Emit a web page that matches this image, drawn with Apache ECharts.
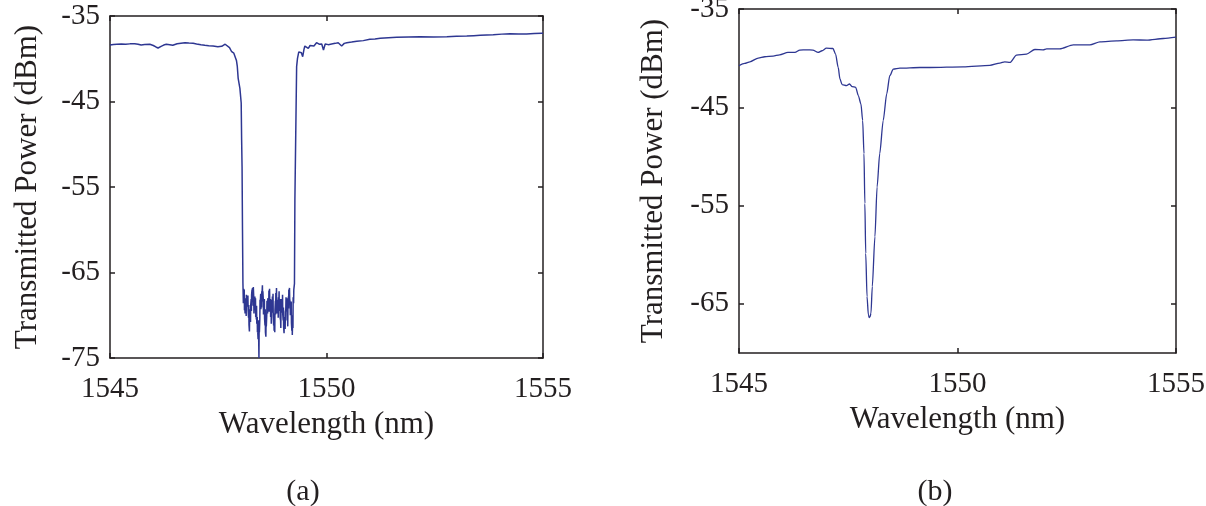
<!DOCTYPE html>
<html>
<head>
<meta charset="utf-8">
<script src="https://cdn.jsdelivr.net/npm/echarts@6/dist/echarts.min.js"></script>
<style>
  html, body { margin: 0; padding: 0; background: #ffffff; }
  #chart { width: 1206px; height: 506px; }
</style>
</head>
<body>
<div id="chart"></div>
<script>
// Transmission spectra: (a) broad stop band, (b) narrow resonance dip.
// Each entry is [wavelength (nm), transmitted power (dBm)].
const traceA = [
  [1545.00,-38.39],[1545.08,-38.33],[1545.16,-38.30],[1545.26,-38.27],[1545.36,-38.31],
  [1545.46,-38.26],[1545.57,-38.24],[1545.65,-38.30],[1545.72,-38.39],[1545.80,-38.33],
  [1545.92,-38.31],[1546.00,-38.45],[1546.06,-38.62],[1546.11,-38.74],[1546.18,-38.55],
  [1546.24,-38.40],[1546.30,-38.31],[1546.38,-38.36],[1546.45,-38.43],[1546.55,-38.25],
  [1546.64,-38.18],[1546.73,-38.12],[1546.82,-38.17],[1546.92,-38.20],[1547.00,-38.28],
  [1547.10,-38.36],[1547.19,-38.43],[1547.28,-38.48],[1547.38,-38.52],[1547.49,-38.59],
  [1547.58,-38.55],[1547.66,-38.30],[1547.70,-38.19],[1547.76,-38.70],[1547.81,-39.18],
  [1547.86,-39.35],[1547.89,-39.56],[1547.92,-40.20],[1547.94,-40.90],[1547.96,-42.29],
  [1548.00,-43.46],[1548.03,-45.18],[1548.04,-49.50],[1548.05,-52.63],[1548.06,-60.00],
  [1548.07,-66.26],
  // noisy floor inside the stop band
  [1548.08,-68.6],[1548.085,-66.9],[1548.09,-67.5],[1548.10,-67.0],[1548.105,-69.4],
  [1548.11,-68.8],[1548.12,-69.8],[1548.125,-68.0],[1548.13,-69.1],[1548.14,-68.2],
  [1548.145,-70.1],[1548.15,-67.6],[1548.16,-67.4],[1548.165,-68.9],[1548.17,-68.3],
  [1548.18,-69.0],[1548.185,-67.7],[1548.19,-69.4],[1548.20,-70.3],[1548.205,-68.8],
  [1548.21,-71.1],[1548.22,-71.9],[1548.225,-69.9],[1548.23,-70.6],[1548.24,-69.3],
  [1548.245,-70.8],[1548.25,-68.8],[1548.26,-68.1],[1548.265,-69.5],[1548.27,-67.6],
  [1548.28,-67.0],[1548.285,-68.4],[1548.29,-66.8],[1548.30,-67.4],[1548.305,-68.9],
  [1548.31,-66.7],[1548.32,-67.9],[1548.325,-69.8],[1548.33,-68.7],[1548.34,-69.4],
  [1548.345,-67.8],[1548.35,-68.5],[1548.36,-68.0],[1548.365,-70.2],[1548.37,-69.2],
  [1548.38,-70.5],[1548.385,-68.9],[1548.39,-71.0],[1548.40,-70.2],[1548.405,-72.0],
  [1548.41,-71.7],[1548.42,-72.8],[1548.425,-70.6],[1548.43,-71.4],[1548.44,-75.0],
  [1548.445,-70.9],[1548.45,-72.0],[1548.46,-70.4],[1548.465,-68.2],[1548.47,-68.6],
  [1548.48,-67.5],[1548.485,-69.3],[1548.49,-68.3],[1548.50,-69.1],[1548.505,-67.2],
  [1548.51,-67.6],[1548.52,-66.5],[1548.525,-68.4],[1548.53,-67.2],[1548.54,-68.1],
  [1548.545,-69.9],[1548.55,-68.9],[1548.56,-69.5],[1548.565,-68.1],[1548.57,-70.4],
  [1548.58,-71.2],[1548.585,-69.3],[1548.59,-72.0],[1548.60,-72.5],[1548.605,-70.4],
  [1548.61,-71.3],[1548.62,-70.0],[1548.625,-68.3],[1548.63,-68.7],[1548.64,-69.8],
  [1548.645,-68.0],[1548.65,-69.2],[1548.66,-68.0],[1548.665,-69.6],[1548.67,-67.1],
  [1548.68,-67.9],[1548.685,-66.9],[1548.69,-68.6],[1548.70,-69.6],[1548.705,-68.1],
  [1548.71,-70.2],[1548.72,-69.4],[1548.725,-71.0],[1548.73,-68.9],[1548.74,-68.2],
  [1548.745,-69.7],[1548.75,-67.8],[1548.76,-68.9],[1548.765,-67.5],[1548.77,-70.1],
  [1548.78,-71.2],[1548.785,-69.8],[1548.79,-71.8],[1548.80,-70.5],[1548.805,-72.0],
  [1548.81,-69.4],[1548.82,-68.3],[1548.825,-69.9],[1548.83,-67.4],[1548.84,-68.1],
  [1548.845,-66.8],[1548.85,-69.0],[1548.86,-69.8],[1548.865,-68.2],[1548.87,-69.1],
  [1548.88,-68.5],[1548.885,-70.3],[1548.89,-67.9],[1548.90,-68.3],[1548.905,-67.2],
  [1548.91,-69.0],[1548.92,-69.5],[1548.925,-68.1],[1548.93,-70.3],[1548.94,-70.6],
  [1548.945,-71.5],[1548.95,-69.2],[1548.96,-68.1],[1548.965,-69.7],[1548.97,-68.6],
  [1548.98,-69.1],[1548.985,-67.6],[1548.99,-69.9],[1549.00,-70.6],[1549.005,-69.1],
  [1549.01,-71.4],[1549.02,-72.1],[1549.025,-70.2],[1549.03,-71.0],[1549.04,-70.2],
  [1549.045,-71.6],[1549.05,-69.6],[1549.06,-69.3],[1549.065,-67.9],[1549.07,-68.4],
  [1549.08,-69.5],[1549.085,-68.0],[1549.09,-70.6],[1549.10,-69.8],[1549.105,-71.3],
  [1549.11,-68.7],[1549.12,-67.8],[1549.125,-69.2],[1549.13,-67.0],[1549.14,-67.6],
  [1549.145,-66.8],[1549.15,-68.1],[1549.16,-68.5],[1549.165,-70.0],[1549.17,-68.7],
  [1549.18,-69.8],[1549.185,-68.4],[1549.19,-70.9],[1549.20,-71.8],[1549.205,-70.0],
  [1549.21,-72.3],[1549.22,-70.2],[1549.225,-71.5],[1549.23,-67.9],[1549.24,-68.6],
  [1549.245,-67.0],[1549.25,-67.2],[1549.26,-66.3],
  // rising edge and long-wavelength side
  [1549.27,-56.50],[1549.31,-40.93],[1549.33,-39.95],[1549.36,-39.20],[1549.39,-38.98],
  [1549.42,-39.30],[1549.45,-39.76],[1549.48,-38.90],[1549.50,-38.51],[1549.54,-38.70],
  [1549.58,-38.78],[1549.62,-38.45],[1549.66,-38.39],[1549.71,-38.50],[1549.77,-38.12],
  [1549.83,-38.30],[1549.89,-38.27],[1549.93,-38.98],[1549.97,-38.27],[1550.04,-38.35],
  [1550.12,-38.27],[1550.20,-38.20],[1550.27,-38.12],[1550.35,-38.51],[1550.41,-38.20],
  [1550.47,-38.12],[1550.58,-38.05],[1550.70,-37.96],[1550.85,-37.88],[1551.00,-37.73],
  [1551.12,-37.70],[1551.24,-37.61],[1551.43,-37.55],[1551.62,-37.49],[1551.90,-37.45],
  [1552.16,-37.42],[1552.47,-37.45],[1552.78,-37.42],[1553.00,-37.38],[1553.24,-37.34],
  [1553.40,-37.30],[1553.55,-37.26],[1553.70,-37.22],[1553.85,-37.19],[1554.05,-37.12],
  [1554.24,-37.07],[1554.43,-37.10],[1554.62,-37.11],[1554.80,-37.05],[1554.97,-37.02],
  [1555.00,-37.02]
];

const wavelengthB = [
  1545.00,1545.13,1545.25,1545.44,1545.59,1545.78,1545.93,1546.12,1546.28,1546.39,
  1546.55,1546.69,1546.81,1546.90,1547.00,1547.15,1547.21,1547.27,1547.31,1547.36,
  1547.46,1547.53,1547.59,1547.67,1547.73,1547.79,1547.83,1547.86,1547.88,1547.90,
  1547.93,1547.96,1547.98,1548.00,1548.02,1548.05,1548.11,1548.16,1548.22,1548.30,
  1548.38,1548.45,1548.53,1548.68,1549.14,1549.37,1550.13,1550.74,1550.97,1551.08,
  1551.20,1551.35,1551.58,1551.77,1551.96,1552.04,1552.34,1552.65,1553.03,1553.26,
  1553.64,1554.02,1554.33,1554.71,1555.00
];
const powerB = [
  -40.77,-40.54,-40.37,-39.99,-39.86,-39.79,-39.66,-39.42,-39.42,-39.18,
  -39.15,-39.18,-39.42,-39.25,-38.98,-39.02,-39.59,-40.95,-42.12,-42.70,
  -42.80,-42.63,-42.90,-42.97,-43.81,-44.66,-46.35,-49.72,-54.79,-59.86,
  -64.26,-66.10,-66.39,-66.30,-65.94,-63.25,-58.18,-53.11,-49.72,-46.35,
  -43.64,-41.79,-41.11,-41.01,-40.95,-40.95,-40.88,-40.74,-40.50,-40.37,
  -40.44,-39.69,-39.59,-39.12,-39.15,-39.05,-39.05,-38.64,-38.64,-38.34,
  -38.24,-38.14,-38.17,-38.00,-37.86
];

const xTicks = [1545, 1550, 1555];
const yTicksA = [-75, -65, -55, -45, -35];
const yTicksB = [-65, -55, -45, -35];
const panelLabels = ['(a)', '(b)'];
const xTitle = 'Wavelength (nm)';
const yTitle = 'Transmitted Power (dBm)';

const ink = '#231f20';
const traceColor = '#2e3792';
const serif = '"Liberation Serif", "Times New Roman", serif';

const traceB = wavelengthB.map((w, i) => [w, powerB[i]]);
const plain = v => String(v);

function xAxisPair(grid) {
  const common = {
    gridIndex: grid, type: 'value', min: 1545, max: 1555, interval: 5,
    axisLine: { show: true, onZero: false, lineStyle: { color: ink, width: 1.5 } },
    axisTick: { show: true, inside: true, length: 5, customValues: xTicks, lineStyle: { color: ink, width: 1.5 } },
    splitLine: { show: false }
  };
  return [
    Object.assign({}, common, {
      position: 'bottom',
      axisLabel: { show: true, customValues: xTicks, formatter: plain, margin: 17, fontSize: 29, color: ink, fontFamily: serif },
      name: xTitle, nameLocation: 'middle', nameGap: 51,
      nameTextStyle: { fontSize: 31, color: ink, fontFamily: serif }
    }),
    Object.assign({}, common, { position: 'top', axisLabel: { show: false } })
  ];
}

function yAxisPair(grid, min, max, ticks, nameGap) {
  const common = {
    gridIndex: grid, type: 'value', min: min, max: max, interval: 5,
    axisLine: { show: true, onZero: false, lineStyle: { color: ink, width: 1.5 } },
    axisTick: { show: true, inside: true, length: 5, customValues: ticks, lineStyle: { color: ink, width: 1.5 } },
    splitLine: { show: false }
  };
  return [
    Object.assign({}, common, {
      position: 'left',
      axisLabel: { show: true, customValues: ticks, formatter: plain, margin: 10, fontSize: 29, color: ink, fontFamily: serif },
      name: yTitle, nameLocation: 'middle', nameGap: nameGap,
      nameTextStyle: { fontSize: 31, color: ink, fontFamily: serif }
    }),
    Object.assign({}, common, { position: 'right', axisLabel: { show: false } })
  ];
}

const chart = echarts.init(document.getElementById('chart'), null, { renderer: 'canvas' });

chart.setOption({
  animation: false,
  backgroundColor: '#ffffff',
  grid: [
    { left: 110, top: 16, width: 433, height: 342, outerBoundsMode: 'none', containLabel: false },
    { left: 739, top: 9, width: 437, height: 344, outerBoundsMode: 'none', containLabel: false }
  ],
  xAxis: xAxisPair(0).concat(xAxisPair(1)),
  yAxis: yAxisPair(0, -75, -35, yTicksA, 67).concat(yAxisPair(1, -70, -35, yTicksB, 70)),
  series: [
    {
      type: 'line', xAxisIndex: 0, yAxisIndex: 0, data: traceA,
      symbol: 'none', lineStyle: { color: traceColor, width: 1.5 }
    },
    {
      type: 'line', xAxisIndex: 2, yAxisIndex: 2, data: traceB,
      symbol: 'none', smooth: 0.25, smoothMonotone: 'x',
      lineStyle: { color: traceColor, width: 1.3 }
    }
  ],
  graphic: [
    { type: 'text', x: 303, y: 492, style: { text: panelLabels[0], font: '30px ' + serif, fill: ink, textAlign: 'center', textVerticalAlign: 'middle' } },
    { type: 'text', x: 935, y: 492, style: { text: panelLabels[1], font: '30px ' + serif, fill: ink, textAlign: 'center', textVerticalAlign: 'middle' } }
  ]
});
</script>
</body>
</html>
